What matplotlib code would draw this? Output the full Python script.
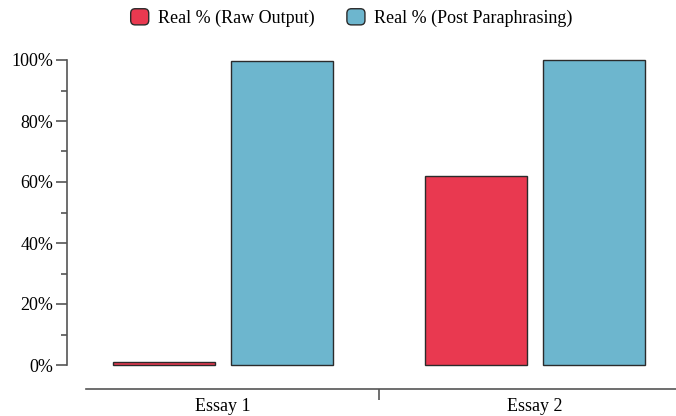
import matplotlib
matplotlib.use("Agg")
import matplotlib.pyplot as plt
import numpy as np
from matplotlib.patches import Patch, FancyBboxPatch
from matplotlib.legend_handler import HandlerBase

# Data
essays = ["Essay 1", "Essay 2"]
raw_output = [1.0, 62.0]
post_paraphrasing = [99.7, 100.0]
series_labels = ["Real % (Raw Output)", "Real % (Post Paraphrasing)"]
y_ticks = [0, 20, 40, 60, 80, 100]

RED = "#E93950"
BLUE = "#6DB6CE"
EDGE = "#2b2b2b"
AXIS = "#555555"

plt.rcParams["font.family"] = ["Liberation Serif", "DejaVu Serif"]


class RoundBox(HandlerBase):
    """Legend swatch drawn as a rounded square."""

    def create_artists(self, legend, orig_handle, xdescent, ydescent,
                       width, height, fontsize, trans):
        p = FancyBboxPatch((-xdescent, -ydescent), width, height,
                           boxstyle=f"round,pad=0,rounding_size={height * 0.28}",
                           facecolor=orig_handle.get_facecolor(),
                           edgecolor=EDGE, lw=1.0, transform=trans)
        return [p]


fig = plt.figure(figsize=(6.76, 4.16), dpi=100)
ax = fig.add_axes([67 / 676, 51 / 416, 624 / 676, 305 / 416])

x = np.arange(len(essays))
width = 0.326
offset = 0.188
ax.bar(x - offset, raw_output, width, color=RED, edgecolor=EDGE,
       linewidth=1.0, clip_on=False)
ax.bar(x + offset, post_paraphrasing, width, color=BLUE, edgecolor=EDGE,
       linewidth=1.0, clip_on=False)

ax.set_xlim(-0.5, 1.5)
ax.set_ylim(0, 100)

for side in ["top", "right"]:
    ax.spines[side].set_visible(False)
ax.spines["left"].set_color(AXIS)
ax.spines["left"].set_linewidth(1.2)
ax.spines["bottom"].set_color(AXIS)
ax.spines["bottom"].set_linewidth(1.2)
ax.spines["bottom"].set_position(("outward", 17))
ax.spines["bottom"].set_bounds(-0.44, 1.5)

# y axis ticks
ax.set_yticks(y_ticks)
ax.set_yticklabels([f"{t}%" for t in y_ticks])
ax.set_yticks([10, 30, 50, 70, 90], minor=True)
ax.tick_params(axis="y", which="major", length=8, width=1.2, color=AXIS,
               labelsize=13, pad=2)
ax.tick_params(axis="y", which="minor", length=4, width=1.2, color=AXIS)

# x axis: band boundary tick, labels at band centres
ax.set_xticks([0.5])
ax.set_xticklabels([""])
ax.set_xticks(x, minor=True)
ax.set_xticklabels(essays, minor=True)
ax.tick_params(axis="x", which="major", length=8, width=1.2, color=AXIS)
ax.tick_params(axis="x", which="minor", length=0, labelsize=13, pad=7)

handles = [Patch(facecolor=RED), Patch(facecolor=BLUE)]
fig.legend(handles, series_labels, loc="center", bbox_to_anchor=(0.52, 0.957),
           ncol=2, frameon=False, fontsize=13, handlelength=1.0,
           handleheight=1.0, handletextpad=0.5, columnspacing=1.8,
           handler_map={Patch: RoundBox()})

fig.savefig("out.png", dpi=100)
